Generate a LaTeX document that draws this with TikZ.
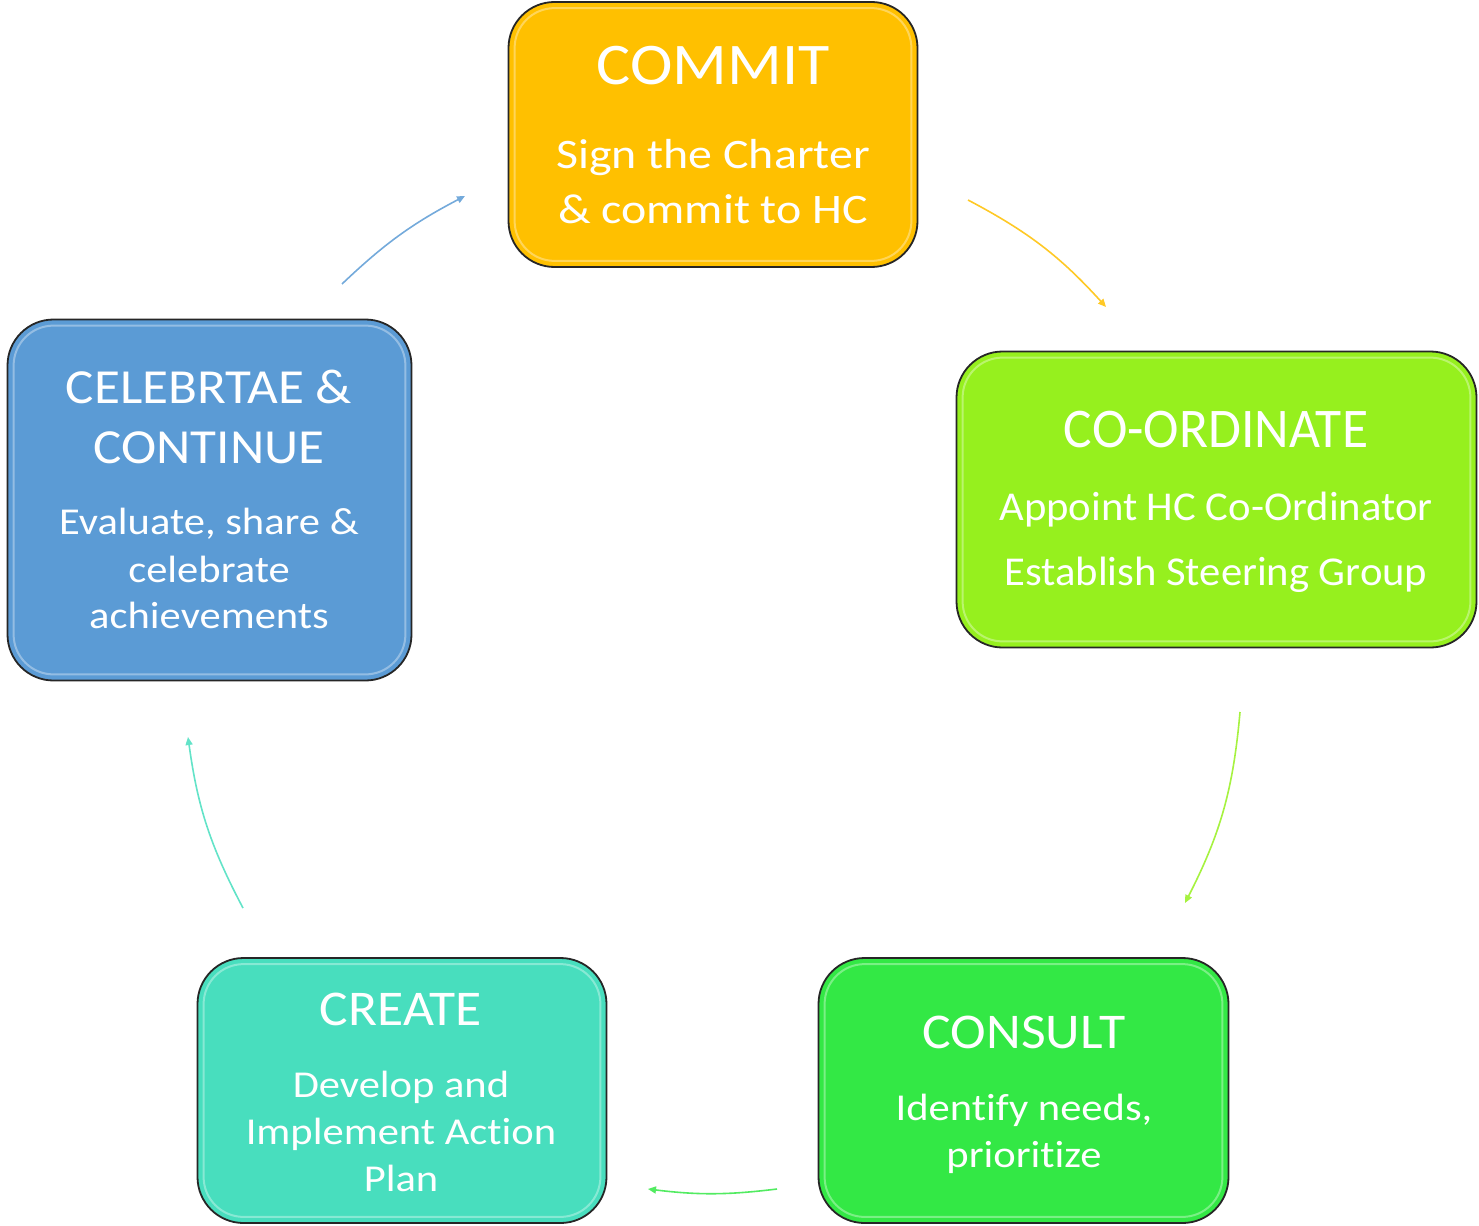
\documentclass[tikz,border=0pt]{standalone}
\usepackage{fontspec}
\setmainfont{Carlito}[Ligatures={NoCommon}]
\usetikzlibrary{arrows.meta}
\definecolor{cCommit}{HTML}{FFC000}
\definecolor{cCoord}{HTML}{96F01E}
\definecolor{cConsult}{HTML}{33E845}
\definecolor{cCreate}{HTML}{48DEBE}
\definecolor{cCeleb}{HTML}{5B9BD5}
\tikzset{
  hcbox/.style={draw=black!85, line width=1.8pt, rounded corners=46pt, inner sep=0pt},
  hilite/.style={draw=white, line width=2pt, opacity=0.35, rounded corners=40pt},
  txt/.style={text=white, anchor=base, inner sep=0pt, transform shape},
  cyc/.style={line width=1.6pt, -{Triangle[length=8pt,width=7pt]}},
}
\newcommand\hcpanel[6]{%
  \node[hcbox, fill=#6, minimum width=#4pt, minimum height=#5pt] (#1) at (#2,#3) {};
  \draw[hilite] ([shift={(7pt,-7pt)}]#1.north west) rectangle ([shift={(-7pt,7pt)}]#1.south east);
}
\begin{document}
\begin{tikzpicture}[x=1pt,y=-1pt]
\useasboundingbox (0,0) rectangle (1479,1225);
% boxes
\hcpanel{commit}{713}{134.5}{409}{265}{cCommit}
\hcpanel{coord}{1216.5}{499.5}{520}{296}{cCoord}
\hcpanel{consult}{1023.5}{1090.5}{410}{265}{cConsult}
\hcpanel{create}{402}{1090.5}{409}{265}{cCreate}
\hcpanel{celeb}{209.5}{500}{404}{361}{cCeleb}
% texts
\node[txt, xscale=1.085, font=\fontsize{59}{70}\selectfont] (commitT) at (713,85) {COMMIT};
\node[txt, xscale=1.14, font=\fontsize{42}{50}\selectfont] (commitA) at (713,168) {Sign the Charter};
\node[txt, xscale=1.14, font=\fontsize{42}{50}\selectfont] (commitB) at (713,223) {\& commit to HC};

\node[txt, xscale=0.955, font=\fontsize{56}{66}\selectfont] (coordT) at (1216,447) {CO-ORDINATE};
\node[txt, xscale=1.04, font=\fontsize{41}{50}\selectfont] (coordA) at (1216,520) {Appoint HC Co-Ordinator};
\node[txt, xscale=1.04, font=\fontsize{41}{50}\selectfont] (coordB) at (1216,585) {Establish Steering Group};

\node[txt, xscale=1.075, font=\fontsize{50}{60}\selectfont] (consultT) at (1024,1048) {CONSULT};
\node[txt, xscale=1.12, font=\fontsize{38}{46}\selectfont] (consultA) at (1024,1120) {Identify needs,};
\node[txt, xscale=1.12, font=\fontsize{38}{46}\selectfont] (consultB) at (1024,1167) {prioritize};

\node[txt, xscale=1.07, font=\fontsize{50}{60}\selectfont] (createT) at (401,1025) {CREATE};
\node[txt, xscale=1.12, font=\fontsize{38}{46}\selectfont] (createA) at (401,1097) {Develop and};
\node[txt, xscale=1.12, font=\fontsize{38}{46}\selectfont] (createB) at (401,1144) {Implement Action};
\node[txt, xscale=1.12, font=\fontsize{38}{46}\selectfont] (createC) at (401,1191) {Plan};

\node[txt, xscale=1.084, font=\fontsize{49}{60}\selectfont] (celebT) at (209,403) {CELEBRTAE \&};
\node[txt, xscale=1.084, font=\fontsize{49}{60}\selectfont] (celebU) at (209,463) {CONTINUE};
\node[txt, xscale=1.12, font=\fontsize{38}{46}\selectfont] (celebA) at (209,534) {Evaluate, share \&};
\node[txt, xscale=1.12, font=\fontsize{38}{46}\selectfont] (celebB) at (209,582) {celebrate};
\node[txt, xscale=1.12, font=\fontsize{38}{46}\selectfont] (celebC) at (209,628) {achievements};
% arrow end points
\coordinate (a1s) at (968,200);  \coordinate (a1e) at (1106,307);
\coordinate (a2s) at (1240,712); \coordinate (a2e) at (1185,903);
\coordinate (a3s) at (777,1189); \coordinate (a3e) at (648,1189);
\coordinate (a4s) at (243,908);  \coordinate (a4e) at (188,737);
\coordinate (a5s) at (342,284);  \coordinate (a5e) at (465,196);
\draw[cyc, draw=cCommit!85] (a1s) to[bend left=10] (a1e);
\draw[cyc, draw=cCoord!85] (a2s) to[bend left=11] (a2e);
\draw[cyc, draw=cConsult!85] (a3s) to[bend left=7] (a3e);
\draw[cyc, draw=cCreate!85] (a4s) to[bend left=10] (a4e);
\draw[cyc, draw=cCeleb!85] (a5s) to[bend left=8] (a5e);
\end{tikzpicture}
\end{document}
